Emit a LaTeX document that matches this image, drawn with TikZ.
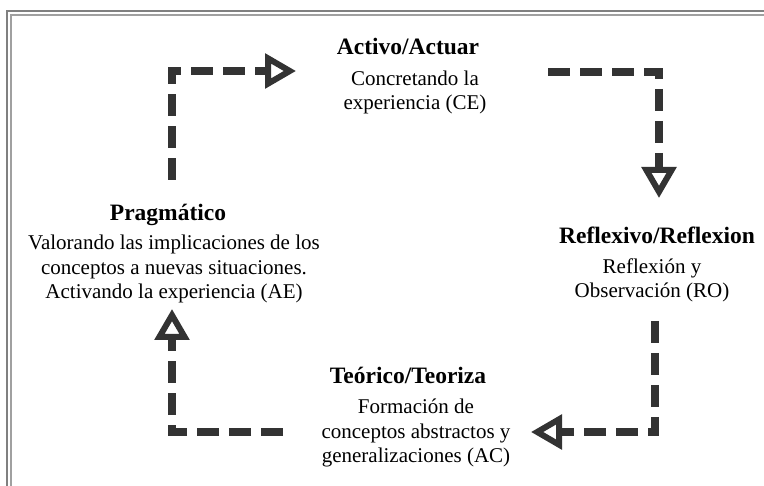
\documentclass[tikz,border=0pt]{standalone}
\usepackage{fontspec}
\setmainfont{Liberation Serif}
\usetikzlibrary{arrows.meta}
\definecolor{arrowgray}{HTML}{333333}
\definecolor{frameouter}{HTML}{808080}
\definecolor{frameinner}{HTML}{A0A0A0}
\tikzset{
  title/.style={font=\fontsize{23.5}{27}\selectfont\bfseries, inner sep=0pt, anchor=base},
  body/.style={font=\fontsize{21}{24.5}\selectfont, align=center, inner sep=0pt, anchor=base},
  flow/.style={draw=arrowgray, line width=8.5pt, dash pattern=on 22pt off 10pt,
    -{Triangle[open, length=31pt, width=34pt, line width=6pt]}},
  frameline/.style={line width=2pt}
}
\begin{document}
\begin{tikzpicture}[x=1pt, y=-1pt]
\useasboundingbox (0,0) rectangle (764,486);
% frame
\draw[frameline, frameouter] (7,486) -- (7,11) -- (764,11);
\draw[frameline, frameinner] (11,486) -- (11,15) -- (764,15);
% titles
\node[title] (act) at (408,55) {Activo/Actuar};
\node[title] (pra) at (168,221) {Pragmático};
\node[title] (ref) at (657,244) {Reflexivo/Reflexion};
\node[title] (teo) at (408,384) {Teórico/Teoriza};
% bodies (base = baseline of last line)
\node[body] (actb) at (415,110) {Concretando la\\experiencia (CE)};
\node[body] (prab) at (174,299) {Valorando las implicaciones de los\\conceptos a nuevas situaciones.\\Activando la experiencia (AE)};
\node[body] (refb) at (652,298) {Reflexión y\\Observación (RO)};
\node[body] (teob) at (416,463) {Formación de\\conceptos abstractos y\\generalizaciones (AC)};
% connector ends
\coordinate (p1s) at (172,180);
\coordinate (p1e) at (296,71);
\coordinate (p2s) at (548,72);
\coordinate (p2e) at (659,198);
\coordinate (p3s) at (655,321);
\coordinate (p3e) at (531,432);
\coordinate (p4s) at (283,432);
\coordinate (p4e) at (172,309);
% connectors
\draw[flow] (p1s) |- (p1e);
\draw[flow] (p2s) -| (p2e);
\draw[flow] (p3s) |- (p3e);
\draw[flow] (p4s) -| (p4e);
\end{tikzpicture}
\end{document}
